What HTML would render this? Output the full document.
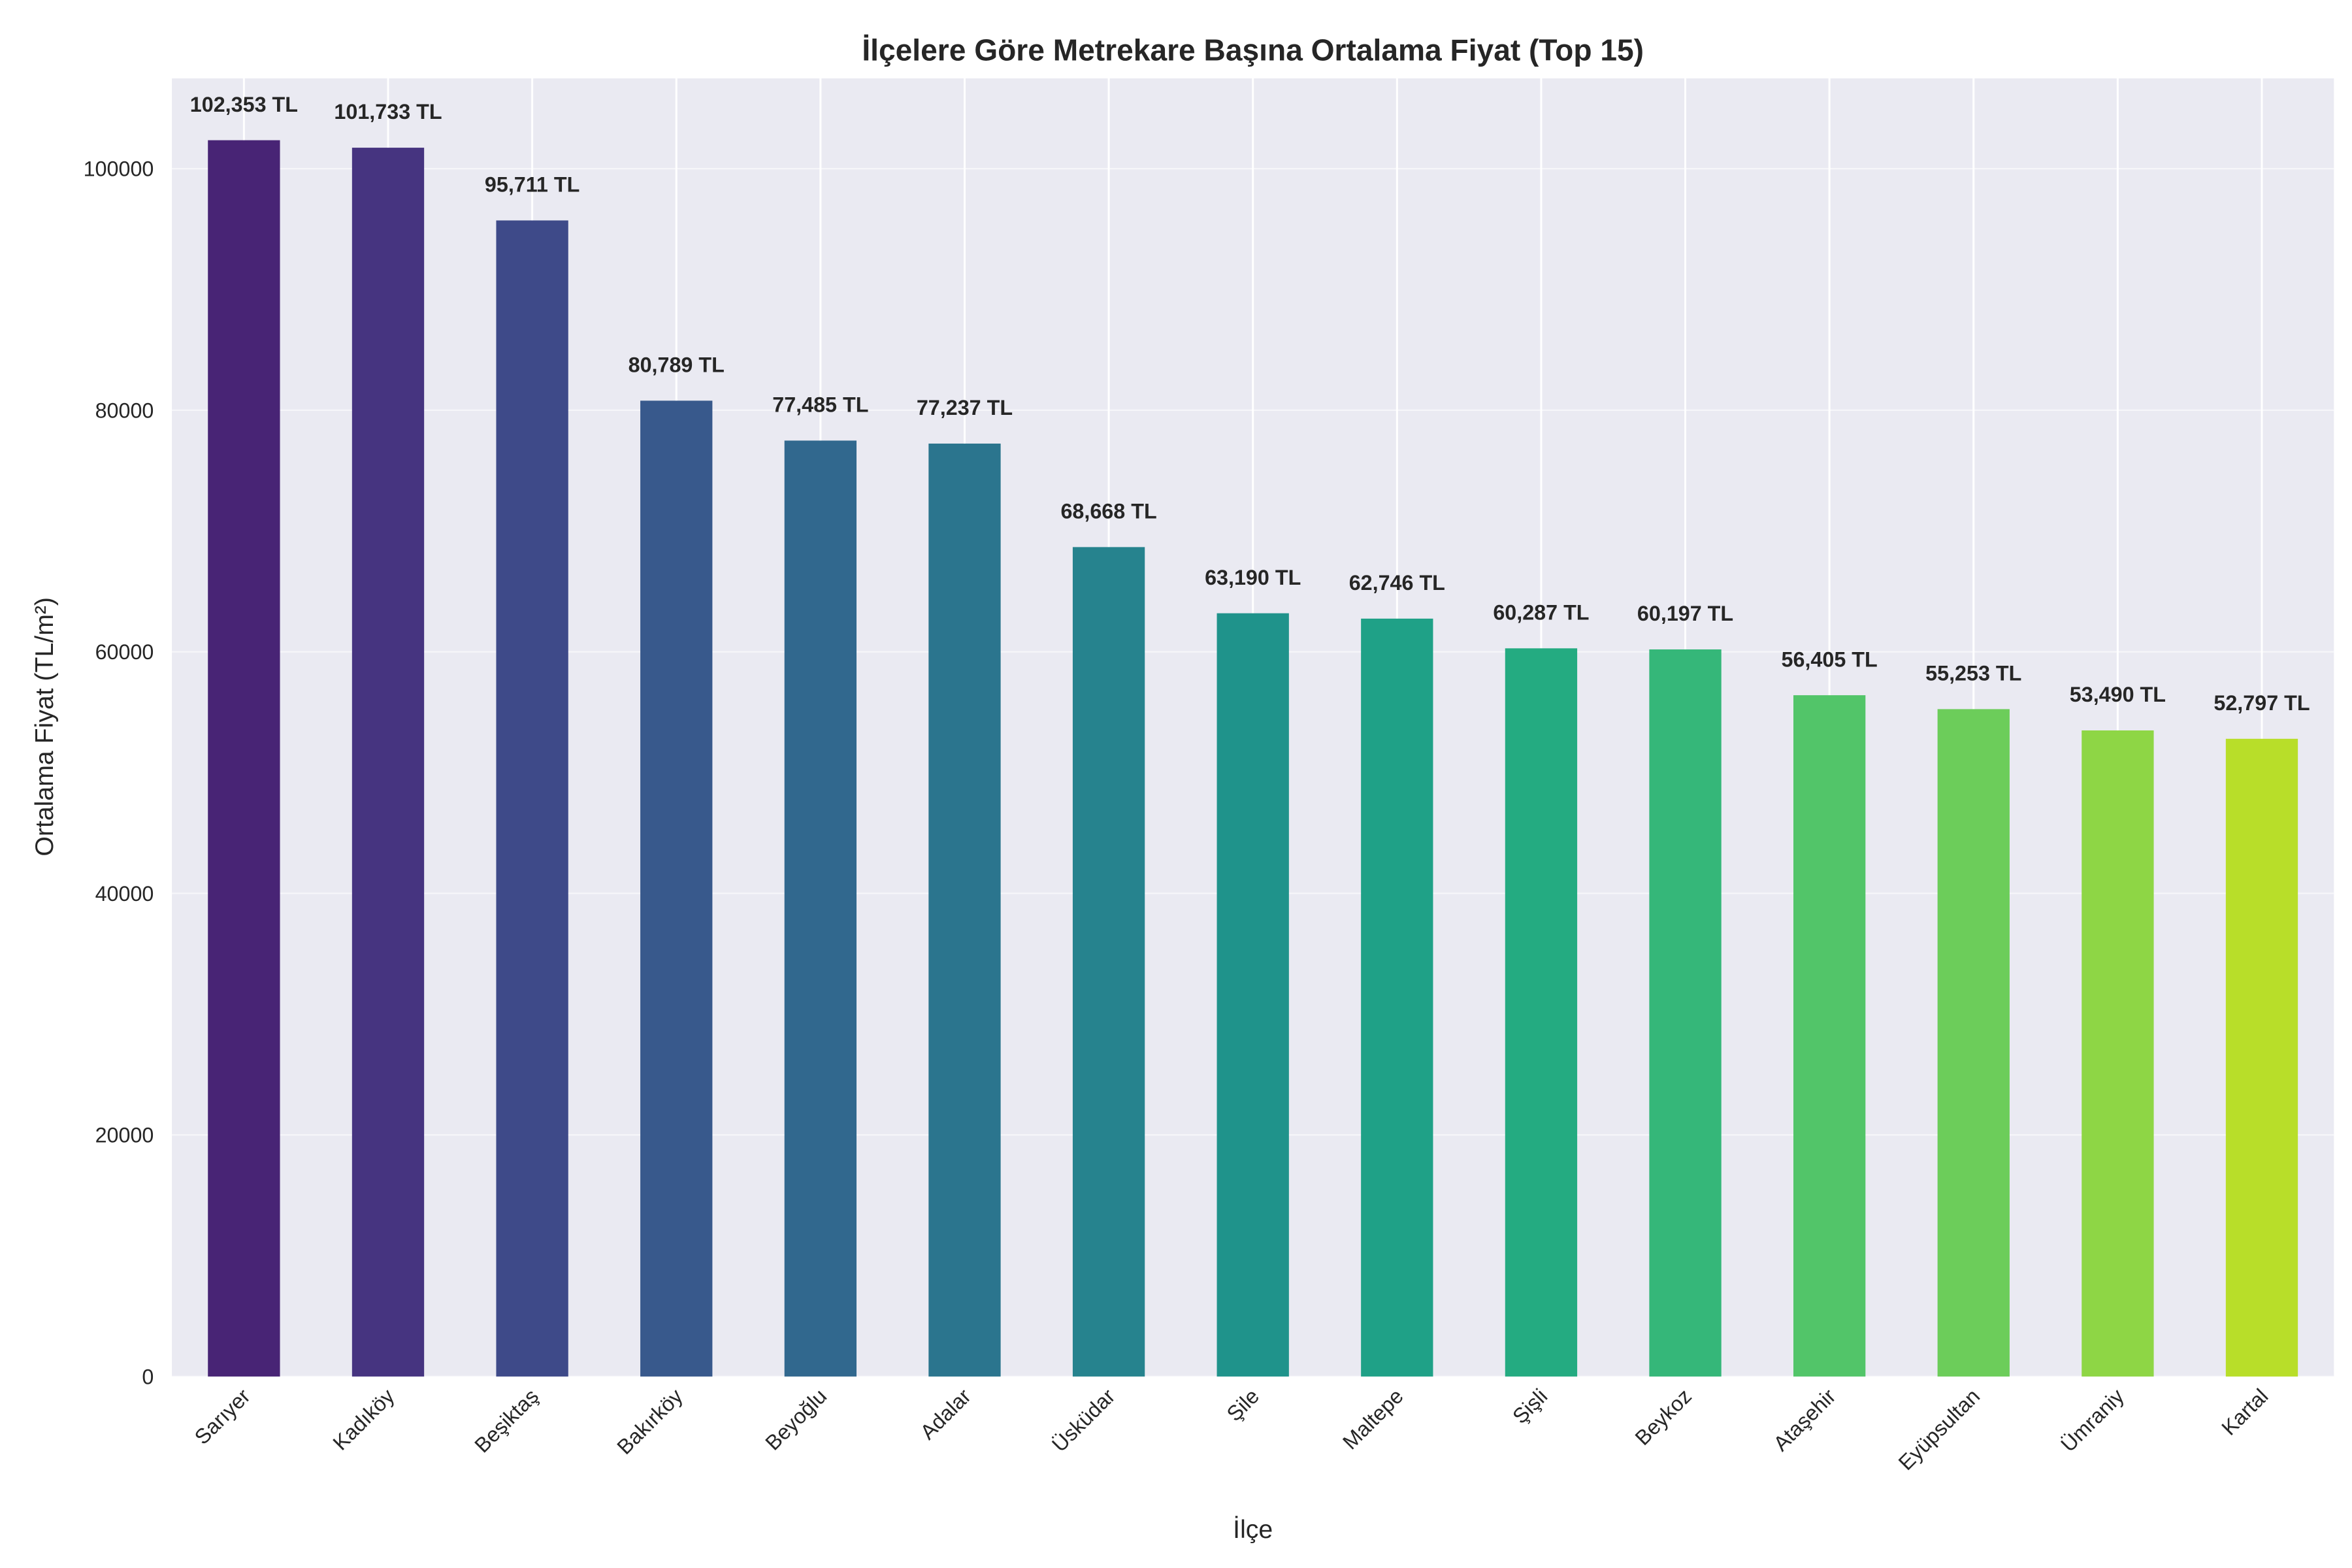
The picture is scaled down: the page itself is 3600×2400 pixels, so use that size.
<!DOCTYPE html>
<html><head><meta charset="utf-8">
<style>
html,body{margin:0;padding:0;background:#fff;}
svg{display:block;font-family:"Liberation Sans","DejaVu Sans",sans-serif;}
</style></head>
<body>
<svg id="chart" width="3600" height="2400" viewBox="0 0 1560 1040" xmlns="http://www.w3.org/2000/svg">
<rect x="114" y="52" width="1434" height="861" fill="#eaeaf2"/>
<g id="grid"></g>
<g id="bars"></g>
<g id="labels"></g>
<g id="yticks"></g>
<g id="xticks"></g>
<text x="831" y="40" text-anchor="middle" font-size="20" font-weight="bold" fill="#262626">İlçelere Göre Metrekare Başına Ortalama Fiyat (Top 15)</text>
<text transform="translate(35,482) rotate(-90)" text-anchor="middle" font-size="17" fill="#262626">Ortalama Fiyat (TL/m²)</text>
<text x="831" y="1020" text-anchor="middle" font-size="17" fill="#262626">İlçe</text>
</svg>
<script>
const categories = ["Sarıyer","Kadıköy","Beşiktaş","Bakırköy","Beyoğlu","Adalar","Üsküdar","Şile","Maltepe","Şişli","Beykoz","Ataşehir","Eyüpsultan","Ümraniy","Kartal"];
const values = [102353,101733,95711,80789,77485,77237,68668,63190,62746,60287,60197,56405,55253,53490,52797];
const yTicks = [0,20000,40000,60000,80000,100000];
const colors = ["#482475","#463480","#3e4a89","#38598c","#31688e","#2b758e","#26838e","#1f938b","#1fa187","#24ab81","#35b779","#52c569","#6ccd5a","#8ed645","#b8de29"];

const NS="http://www.w3.org/2000/svg";
const L=114,R=1548,T=52,B=913;
const yMax=Math.max(...values)*1.05;
const y=v=>B-(v/yMax)*(B-T);
const step=(R-L)/categories.length;
const xc=i=>L+step*(i+0.5);
const bw=step*0.5;
function mk(tag,attrs,parent){const e=document.createElementNS(NS,tag);for(const k in attrs)e.setAttribute(k,attrs[k]);parent.appendChild(e);return e;}
const grid=document.getElementById('grid'),bars=document.getElementById('bars'),labels=document.getElementById('labels'),yt=document.getElementById('yticks'),xt=document.getElementById('xticks');
yTicks.forEach(t=>{
  const g=mk('line',{x1:L,x2:R,y1:y(t),y2:y(t),stroke:"#ffffff","stroke-width":1,opacity:0.6},grid);
  
  
  const tx=mk('text',{x:L-12,y:y(t)+5,"text-anchor":"end","font-size":14,fill:"#262626"},yt);
  tx.textContent=t;
  
  
});
categories.forEach((c,i)=>{
  const g=mk('line',{x1:xc(i),x2:xc(i),y1:T,y2:B,stroke:"#ffffff","stroke-width":1.3},grid);
  
  
  const r=mk('rect',{x:xc(i)-bw/2,y:y(values[i]),width:bw,height:B-y(values[i]),fill:colors[i]},bars);
  
  
  const lb=mk('text',{x:xc(i),y:y(values[i])-19,"text-anchor":"middle","font-size":14,"font-weight":"bold",fill:"#262626"},labels);
  lb.textContent=values[i].toLocaleString('en-US')+" TL";
  
  
  const tx=mk('text',{transform:`translate(${xc(i)+5},${B+14}) rotate(-45)`,"text-anchor":"end","font-size":14,fill:"#262626"},xt);
  tx.textContent=c;
  
  
});
</script>
</body></html>
